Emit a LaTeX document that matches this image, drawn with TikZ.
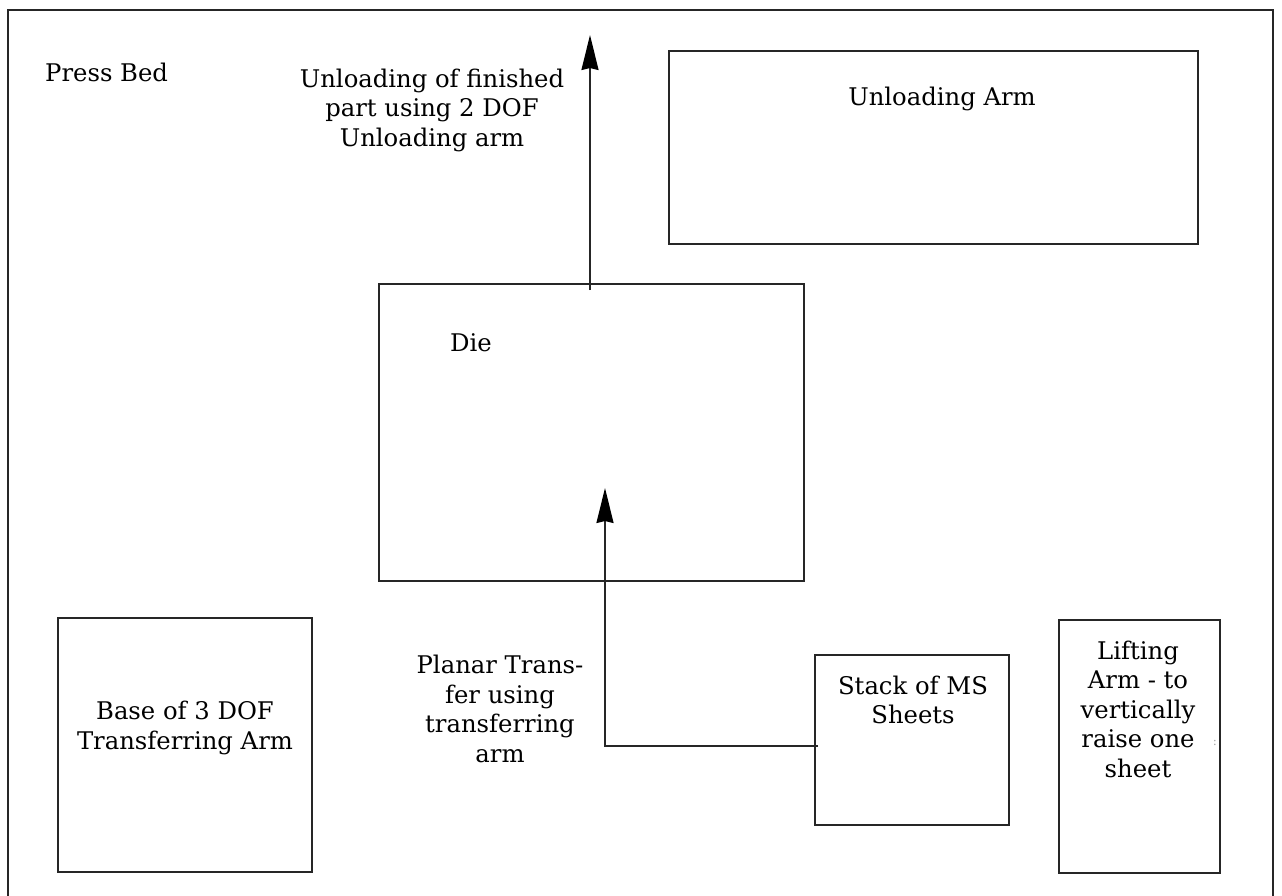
\documentclass[tikz,border=0pt]{standalone}
\usepackage{fontspec}
\setmainfont{DejaVu Serif}
\usetikzlibrary{arrows.meta}
\definecolor{inkline}{HTML}{262626}
\begin{document}
\begin{tikzpicture}[x=1pt,y=-1pt,
  box/.style={draw=inkline, line width=1.7pt, inner sep=0pt, outer sep=0pt, anchor=north west},
  lbl/.style={inner sep=0pt, align=center, font=\fontsize{24.3}{29.5}\selectfont},
  conn/.style={draw=inkline, line width=1.7pt, -{Stealth[length=35pt,width=17pt,inset=2pt,color=black]}}]
  \clip (0,0) rectangle (1282,895);
  \fill[white] (0,0) rectangle (1282,895);

  % press bed frame (runs past the lower edge)
  \node[box, minimum width=1265pt, minimum height=900pt] (bed) at (8,10) {};
  \node[lbl, anchor=west] (bedlbl) at (45,72) {Press Bed};

  % stations
  \node[box, minimum width=529pt, minimum height=193pt] (unload) at (669,51) {};
  \node[box, minimum width=425pt, minimum height=297pt] (die) at (379,284) {};
  \node[box, minimum width=254pt, minimum height=254pt] (base) at (58,618) {};
  \node[box, minimum width=194pt, minimum height=170pt] (stack) at (815,655) {};
  \node[box, minimum width=161pt, minimum height=253pt] (lift) at (1059,620) {};

  % station labels
  \node[lbl] (unloadlbl) at (942,99) {Unloading Arm};
  \node[lbl, anchor=west] (dielbl) at (450,343) {Die};
  \node[lbl] (baselbl) at (185,728) {Base of 3 DOF\\Transferring Arm};
  \node[lbl] (stacklbl) at (913,700) {Stack of MS\\Sheets};
  \node[lbl] (liftlbl) at (1138,709) {Lifting\\Arm - to\\vertically\\raise one\\sheet};
  \node[text=gray!70, font=\fontsize{12}{12}\selectfont, inner sep=0pt] (mark) at (1215,743) {:};

  % unloading path out of the die
  \coordinate (outstart) at (590,290);
  \coordinate (outtip) at (590,35);
  \draw[conn] (outstart) -- (outtip);
  \node[lbl] (outlbl) at (432,110) {Unloading of finished\\part using 2 DOF\\Unloading arm};

  % planar transfer from the stack into the die
  \coordinate (feed) at (818,746);
  \coordinate (feedturn) at (605,746);
  \coordinate (feedtip) at (605,488);
  \draw[conn] (feed) -- (feedturn) -- (feedtip);
  \node[lbl] (feedlbl) at (500,709) {Planar Trans-\\fer using\\transferring\\arm};
\end{tikzpicture}
\end{document}
